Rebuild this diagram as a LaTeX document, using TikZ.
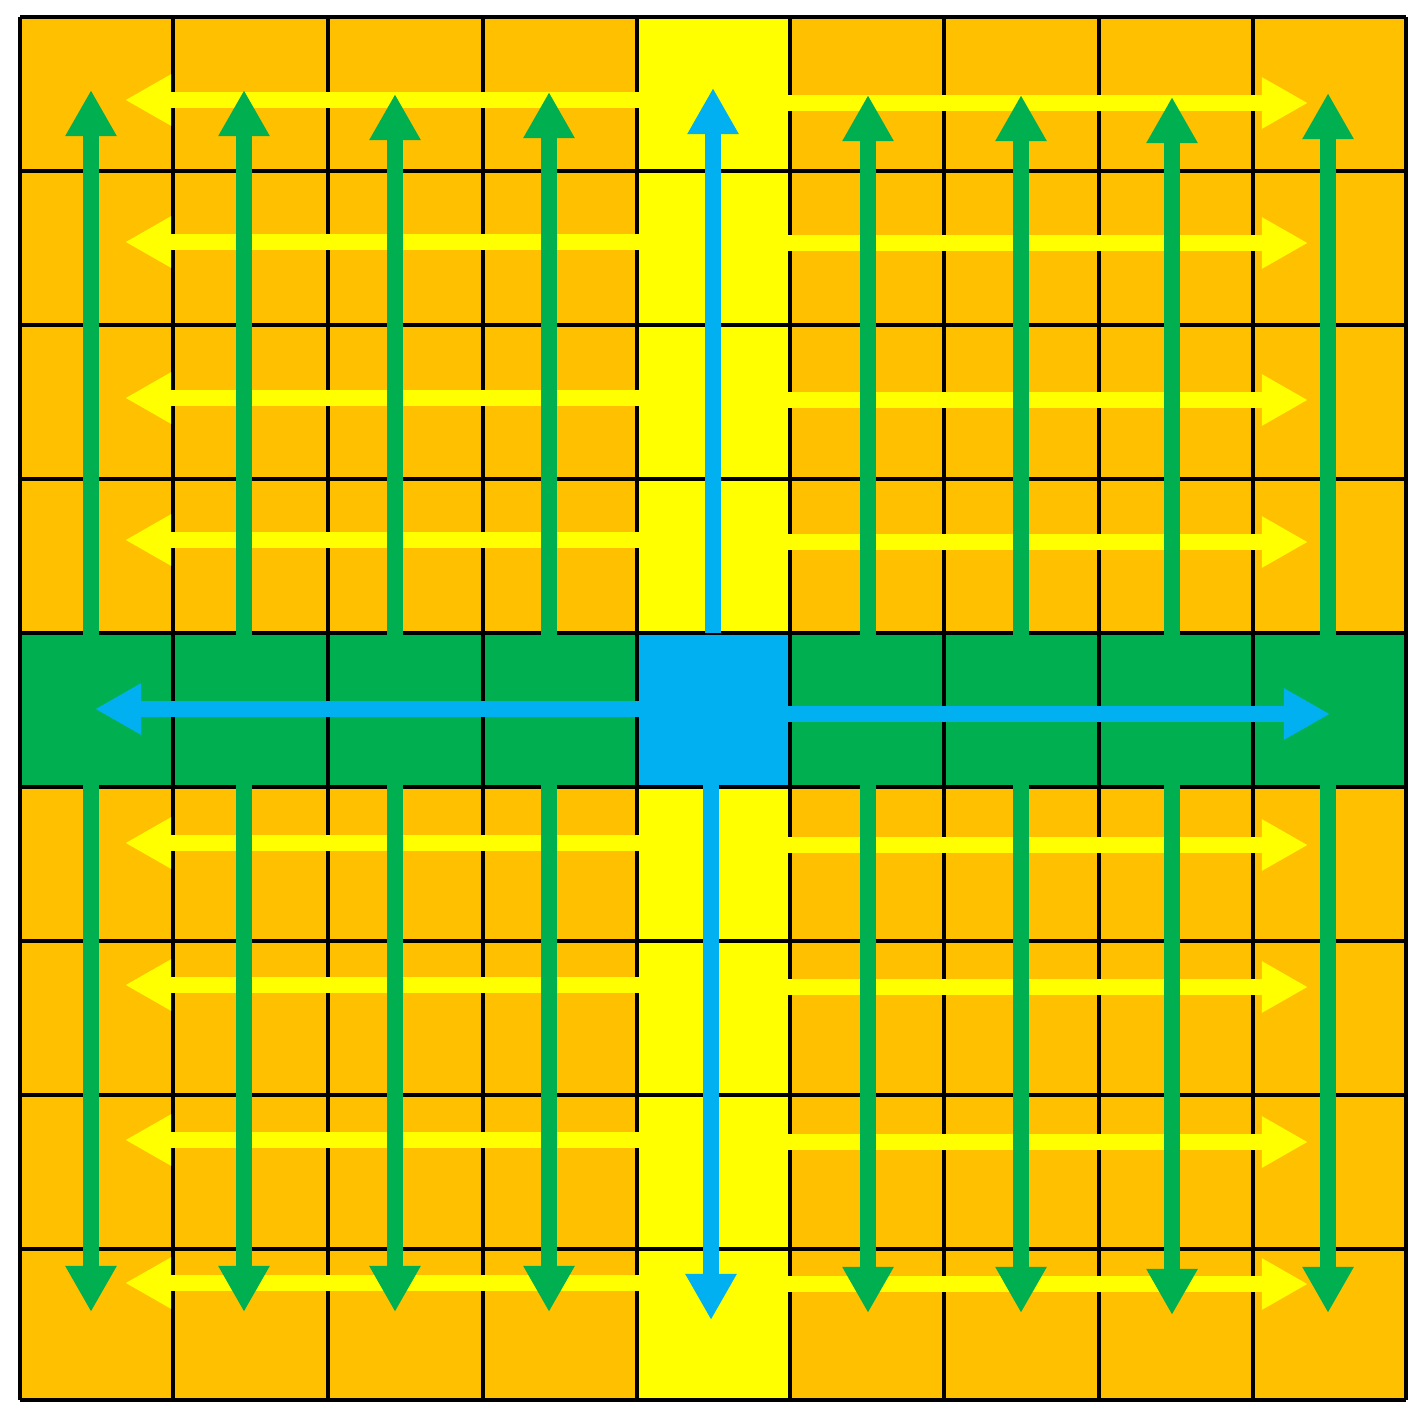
\documentclass[tikz,border=0pt]{standalone}
\usepackage{tikz}
\usetikzlibrary{arrows.meta}
\definecolor{cellorange}{HTML}{FFC000}
\definecolor{flowyellow}{HTML}{FFFF00}
\definecolor{flowgreen}{HTML}{00B050}
\definecolor{flowblue}{HTML}{00B0F0}
\tikzset
{
    gridline/.style   = {draw=black, line width=1.2pt},
    flowarrow/.style  = {line width=0.16cm, -{Triangle[width=0.48cm, length=0.46cm]}},
    yellowflow/.style = {flowarrow, draw=flowyellow},
    greenflow/.style  = {flowarrow, draw=flowgreen},
    blueflow/.style   = {flowarrow, draw=flowblue}
}
\begin{document}
\begin{tikzpicture}[x=0.01cm, y=-0.01cm]
    \useasboundingbox (0,0) rectangle (1419,1416);
    \fill[cellorange] (20,17) rectangle (1406,1400);
    \fill[flowyellow] (637,17) rectangle (790,1400);
    \fill[flowgreen] (20,633) rectangle (1406,787);
    \fill[flowblue] (637,633) rectangle (790,787);
    \foreach \gx in {20,173,328,483,637,790,944,1099,1253,1406}
        \draw[gridline] (\gx,17) -- (\gx,1400);
    \foreach \gy in {17,171,325,479,633,787,941,1095,1249,1400}
        \draw[gridline] (20,\gy) -- (1406,\gy);
    \foreach \yl/\yr in {100/103,242/243,398/400,540/542,843/845,985/987,1140/1142,1283/1284}
    {
        \draw[yellowflow] (639,\yl) -- (125,\yl);
        \draw[yellowflow] (788,\yr) -- (1308,\yr);
    }
    \foreach \gx/\tup/\tdown in {91/90/1312,244/90/1312,395/94/1312,549/92/1312,868/95/1313,1021/95/1313,1172/97/1315,1328/93/1313}
    {
        \draw[greenflow] (\gx,635) -- (\gx,\tup);
        \draw[greenflow] (\gx,785) -- (\gx,\tdown);
    }
    \draw[blueflow] (713,633) -- (713,88);
    \draw[blueflow] (711,785) -- (711,1320);
    \draw[blueflow] (639,709) -- (95,709);
    \draw[blueflow] (788,714) -- (1330,714);
\end{tikzpicture}
\end{document}
